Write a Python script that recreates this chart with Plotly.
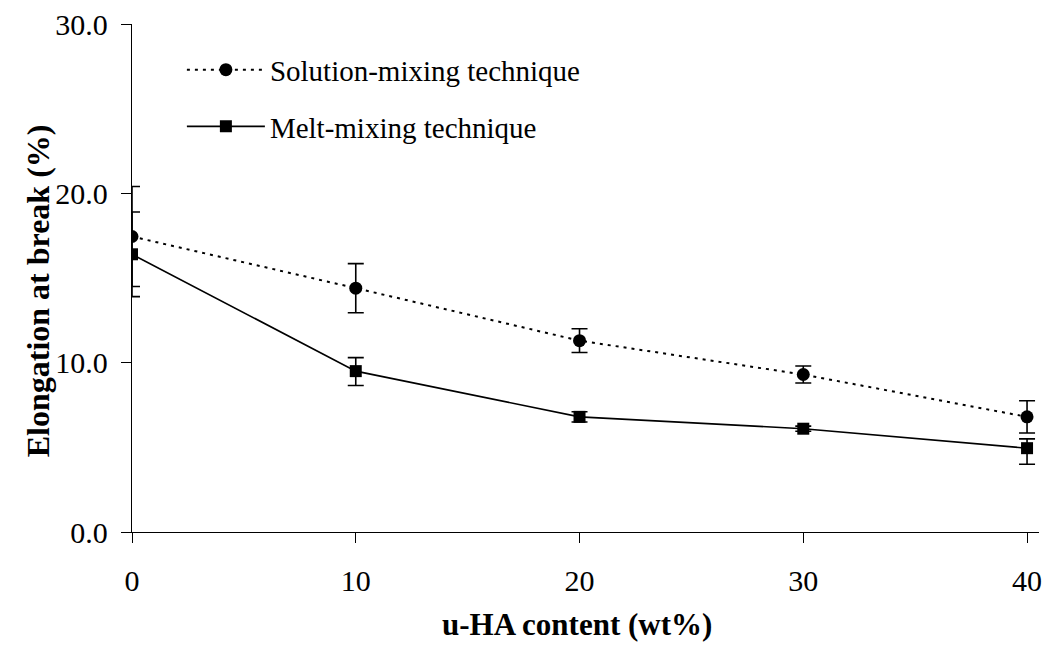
import plotly.graph_objects as go

x_vals = [0, 10, 20, 30, 40]
solution = [17.45, 14.4, 11.3, 9.3, 6.8]
solution_err = [2.95, 1.45, 0.7, 0.5, 0.95]
melt = [16.4, 9.5, 6.8, 6.1, 4.95]
melt_err_plus = [2.5, 0.8, 0.3, 0.15, 0.55]
melt_err_minus = [2.5, 0.85, 0.3, 0.15, 0.95]

y_ticks = [0, 10, 20, 30]
x_ticks = [0, 10, 20, 30, 40]

x_title = "u-HA content (wt%)"
y_title = "Elongation at break (%)"

FONT = "Liberation Serif, Times New Roman, serif"

fig = go.Figure()
fig.add_trace(go.Scatter(
    x=x_vals, y=solution, name="Solution-mixing technique", legendgroup="a",
    mode="lines+markers",
    line=dict(color="black", width=2, dash="3px,5px"),
    marker=dict(symbol="circle", size=13, color="black"),
    error_y=dict(type="data", array=solution_err, color="black", thickness=1.6, width=8),
))
fig.add_trace(go.Scatter(
    x=x_vals, y=melt, name="Melt-mixing technique", legendgroup="b",
    mode="lines+markers",
    line=dict(color="black", width=1.6),
    marker=dict(symbol="square", size=12, color="black"),
    error_y=dict(type="data", symmetric=False, array=melt_err_plus, arrayminus=melt_err_minus,
                 color="black", thickness=1.6, width=8),
))

fig.update_layout(
    width=1042, height=646,
    margin=dict(l=132, r=0, t=24, b=114),
    plot_bgcolor="white", paper_bgcolor="white",
    font=dict(family=FONT, size=29, color="black"),
    showlegend=True,
    legend=dict(x=0.055, y=0.96, xanchor="left", yanchor="top",
                font=dict(family=FONT, size=29), bgcolor="rgba(0,0,0,0)",
                traceorder="grouped", tracegroupgap=16, itemwidth=78),
    xaxis=dict(range=[0, 40 * 910 / 898], tickvals=x_ticks, ticktext=[str(v) for v in x_ticks],
               showline=True, linecolor="black", linewidth=1.3, ticks="outside",
               ticklen=10, tickcolor="black", tickwidth=1.3, showgrid=False, zeroline=False,
               tickfont=dict(family=FONT, size=30), ticklabeloverflow="allow",
               ticklabelstandoff=12),
    yaxis=dict(range=[0, 30], tickvals=y_ticks, ticktext=[f"{v:.1f}" for v in y_ticks],
               showline=True, linecolor="black", linewidth=1.3, ticks="outside",
               ticklen=10, tickcolor="black", tickwidth=1.3, showgrid=False, zeroline=False,
               tickfont=dict(family=FONT, size=30), ticklabelstandoff=7),
    annotations=[
        dict(text=f"<b>{x_title}</b>", xref="paper", yref="paper",
             x=(578 - 132) / 910, y=(532 - 624) / 508, xanchor="center", yanchor="middle",
             showarrow=False, font=dict(family=FONT, size=31)),
        dict(text=f"<b>{y_title}</b>", xref="paper", yref="paper", textangle=-90,
             x=(38 - 132) / 910, y=(532 - 291) / 508, xanchor="center", yanchor="middle",
             showarrow=False, font=dict(family=FONT, size=32)),
    ],
)

fig.write_html("out.html")
